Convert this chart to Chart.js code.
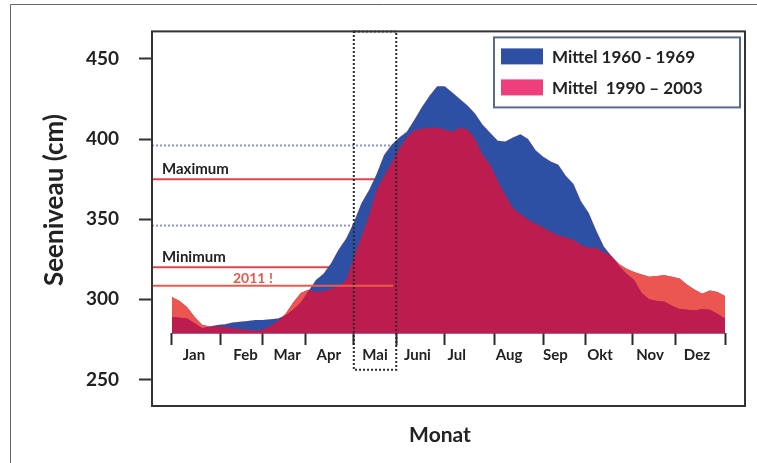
<!DOCTYPE html>
<html>
<head>
<meta charset="utf-8">
<script src="https://cdn.jsdelivr.net/npm/chart.js@4.4.1/dist/chart.umd.min.js"></script>
<style>
  html, body { margin: 0; padding: 0; background: #fff; }
  #wrap { width: 757px; height: 463px; position: relative; }
</style>
</head>
<body>
<div id="wrap"><canvas id="seeChart"></canvas></div>
<script>
// day of year (every 5 days)
const days = [0, 5, 10, 15, 20, 25, 30, 35, 40, 45, 50, 55, 60, 65, 70, 75, 80, 85, 90, 95,
  100, 105, 110, 115, 120, 125, 130, 135, 140, 145, 150, 155, 160, 165, 170, 175, 180, 185, 190, 195,
  200, 205, 210, 215, 220, 225, 230, 235, 240, 245, 250, 255, 260, 265, 270, 275, 280, 285, 290, 295,
  300, 305, 310, 315, 320, 325, 330, 335, 340, 345, 350, 355, 360, 365];

// Seeniveau in cm
const mittel1960 = [289, 288.5, 288, 285, 282, 283, 284, 284.5, 285.5, 286, 286.5, 287, 287, 287.5, 288, 290, 293.5, 298, 305, 312,
  316, 322.5, 331, 338, 348, 360, 368, 378, 390, 396.5, 401, 404.5, 412, 420, 427, 433, 433, 429, 425, 421,
  416, 409, 404, 399, 398.5, 401, 403, 400, 393, 389, 386, 384, 377, 372, 361, 354, 343, 333, 327, 321,
  316, 312, 304, 300, 299, 298.5, 296, 294, 293.5, 293, 294, 293.5, 291, 288];

const mittel1990 = [301.5, 299, 295, 289, 284, 283, 283, 282.5, 282, 281.5, 281, 280.5, 281, 283.5, 286.5, 291, 298, 304, 306, 304.5,
  305, 306.5, 308, 312, 326, 339, 352, 368, 377, 385, 394, 401, 405.5, 406.5, 407, 407, 406, 404.5, 407, 406,
  400, 390, 384, 374, 365, 357, 353, 350, 347, 345, 342, 340, 338.5, 337, 334, 332, 332, 329.5, 327, 322,
  319, 317, 315.5, 314, 314.5, 315, 314, 313, 309, 306, 303.5, 305.5, 304.5, 302];

const seriesNames = ['Mittel 1960 - 1969', 'Mittel  1990 \u2013 2003'];
const monthNames = ['Jan', 'Feb', 'Mar', 'Apr', 'Mai', 'Juni', 'Jul', 'Aug', 'Sep', 'Okt', 'Nov', 'Dez'];
const yTicks = [250, 300, 350, 400, 450];

const guideLevels = [396, 346];          // dotted lines
const markLevels = [375, 320];           // red lines
const markNames = ['Maximum', 'Minimum'];
const level2011 = 308.5;
const label2011 = '2011 !';

// layout
const monthEdges = [0, 32, 60, 88, 120, 148, 180, 213, 245, 273, 304, 332, 365];
const monthLabelAt = [14.5, 48.5, 76, 103.5, 134, 162, 188, 222.5, 253, 282.5, 315.5, 346.5];
const maiRange = [120, 148];
const baseLevel = 278.7;

const blue = '#2e50a4';
const crimson = '#bd1d4e';
const coral = '#ec5650';
const pink = '#ee3e7c';
const lineRed = '#e2434d';
const FONT = 'Lato, "Open Sans", sans-serif';

const xTickList = monthEdges.map(v => ({ value: v, name: '' }))
  .concat(monthLabelAt.map((v, i) => ({ value: v, name: monthNames[i] })))
  .sort((p, q) => p.value - q.value);

function hline(ctx, x1, x2, py) {
  ctx.beginPath();
  ctx.moveTo(x1, py);
  ctx.lineTo(x2, py);
  ctx.stroke();
}

const extras = {
  id: 'extras',
  beforeDatasetsDraw(chart) {
    const { ctx, chartArea: a, scales: { x, y } } = chart;
    const xEnd = x.getPixelForValue(maiRange[1]);
    ctx.save();
    ctx.lineWidth = 2;
    ctx.strokeStyle = '#8f94c6';
    ctx.setLineDash([2, 2]);
    guideLevels.forEach(v => hline(ctx, a.left, xEnd, y.getPixelForValue(v)));
    ctx.setLineDash([]);
    ctx.strokeStyle = lineRed;
    markLevels.forEach(v => hline(ctx, a.left, xEnd, y.getPixelForValue(v)));
    ctx.restore();
  },
  afterDatasetsDraw(chart) {
    const { ctx, chartArea: a, scales: { x, y } } = chart;
    const xStart = x.getPixelForValue(maiRange[0]);
    const xEnd = x.getPixelForValue(maiRange[1]);
    ctx.save();

    // 2011 line
    ctx.lineWidth = 2;
    ctx.strokeStyle = '#ef5a48';
    const p2011 = y.getPixelForValue(level2011);
    hline(ctx, a.left, xEnd - 3, p2011);

    // Mai box
    ctx.strokeStyle = '#2a2a2a';
    ctx.setLineDash([2, 2]);
    ctx.strokeRect(xStart, a.top, xEnd - xStart, y.getPixelForValue(256) - a.top);
    ctx.setLineDash([]);

    // labels of the lines
    ctx.font = 'bold 15px ' + FONT;
    ctx.fillStyle = '#222';
    ctx.textBaseline = 'alphabetic';
    markLevels.forEach((v, i) => ctx.fillText(markNames[i], a.left + 10, y.getPixelForValue(v) - 5));
    ctx.font = 'bold 14px ' + FONT;
    ctx.fillStyle = '#e9574f';
    ctx.fillText(label2011, a.left + 81, p2011 - 3);

    // plot frame
    ctx.strokeStyle = '#333';
    ctx.lineWidth = 2;
    ctx.strokeRect(a.left, a.top, a.right - a.left, a.bottom - a.top);

    // legend
    const lx = a.right - 251, ly = a.top + 6;
    ctx.fillStyle = '#fff';
    ctx.fillRect(lx, ly, 246, 70);
    ctx.strokeStyle = '#5b6a8a';
    ctx.strokeRect(lx, ly, 246, 70);
    [blue, pink].forEach((c, i) => {
      ctx.fillStyle = c;
      ctx.fillRect(lx + 7, ly + 11 + i * 31, 42, 16);
      ctx.fillStyle = '#222';
      ctx.font = 'bold 17px ' + FONT;
      ctx.textBaseline = 'middle';
      ctx.fillText(seriesNames[i], lx + 58, ly + 20 + i * 31);
    });

    // axis titles
    ctx.textAlign = 'center';
    ctx.textBaseline = 'middle';
    ctx.font = 'bold 21px ' + FONT;
    ctx.fillText('Monat', 440, 435);
    ctx.translate(55, 200);
    ctx.rotate(-Math.PI / 2);
    ctx.font = 'bold 26px ' + FONT;
    ctx.fillText('Seeniveau (cm)', 0, 0);
    ctx.restore();

    // outer frame
    ctx.save();
    ctx.strokeStyle = '#666';
    ctx.lineWidth = 1;
    ctx.beginPath();
    ctx.moveTo(10.5, 463);
    ctx.lineTo(10.5, 4.5);
    ctx.lineTo(757, 4.5);
    ctx.stroke();
    ctx.restore();
  }
};

new Chart(document.getElementById('seeChart'), {
  type: 'line',
  data: {
    labels: days,
    datasets: [
      {
        label: seriesNames[0],
        data: mittel1960,
        backgroundColor: blue,
        borderWidth: 0,
        pointRadius: 0,
        fill: { value: baseLevel },
        order: 3
      },
      {
        label: seriesNames[1],
        data: mittel1990,
        backgroundColor: crimson,
        borderWidth: 0,
        pointRadius: 0,
        fill: { value: baseLevel },
        order: 2
      },
      {
        label: seriesNames[1] + ' (über 1960-1969)',
        data: mittel1990,
        backgroundColor: coral,
        borderWidth: 0,
        pointRadius: 0,
        fill: { target: 0, above: coral, below: 'rgba(0,0,0,0)' },
        order: 1
      }
    ]
  },
  options: {
    responsive: true,
    maintainAspectRatio: false,
    animation: false,
    layout: { padding: { top: 29, right: 12, bottom: 57, left: 0 } },
    plugins: {
      legend: { display: false },
      tooltip: { enabled: false }
    },
    scales: {
      x: {
        type: 'linear',
        min: -13.2,
        max: 378.2,
        position: { y: baseLevel },
        afterBuildTicks: scale => { scale.ticks = xTickList.map(t => ({ ...t })); },
        ticks: {
          autoSkip: false,
          maxRotation: 0,
          padding: 1,
          color: '#222',
          font: { family: FONT, size: 15, weight: 'bold' },
          callback: (value, index, ticks) => ticks[index].name
        },
        grid: {
          drawOnChartArea: false,
          tickLength: 12,
          tickWidth: 2,
          tickColor: c => (c.tick && c.tick.name) ? 'rgba(0,0,0,0)' : '#2a2a2a'
        },
        border: { display: false }
      },
      y: {
        min: 233.4,
        max: 467.2,
        afterFit: scale => { scale.width = 152; },
        afterBuildTicks: scale => { scale.ticks = yTicks.map(v => ({ value: v })); },
        ticks: {
          padding: 20,
          color: '#222',
          font: { family: FONT, size: 19, weight: 'bold' }
        },
        grid: {
          drawOnChartArea: false,
          tickLength: 13,
          tickWidth: 2,
          tickColor: '#333'
        },
        border: { display: false }
      }
    }
  },
  plugins: [extras]
});
</script>
</body>
</html>
